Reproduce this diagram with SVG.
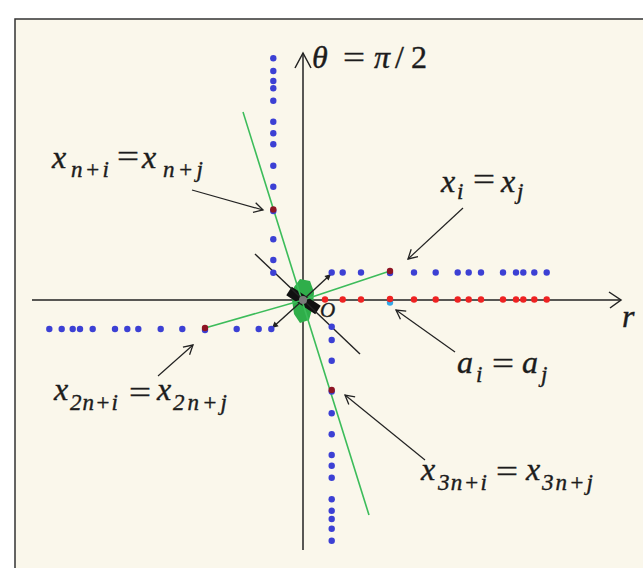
<svg xmlns="http://www.w3.org/2000/svg" width="643" height="568" viewBox="0 0 643 568">
<defs>
<style>
.ax{stroke:#222;stroke-width:1.5;fill:none}
.gl{stroke:#3cbc5a;stroke-width:1.6;fill:none}
.bk{stroke:#222;stroke-width:1.4;fill:none}
.ar{stroke:#222;stroke-width:1.2;fill:none}
.b{fill:#3c40d4}
.r{fill:#ee2222}
.dr{fill:#8e1424}
.c{fill:#33a8e8}
.lb{font-family:"Liberation Serif","DejaVu Serif",serif;font-style:italic;fill:#1c1c1c;stroke:#1c1c1c;stroke-width:0.4}
.m{font-size:32px}
.s{font-size:23px}
.eq{font-style:normal}
</style>
<marker id="open" viewBox="-10 -6 12 12" refX="0" refY="0" markerWidth="12" markerHeight="12" markerUnits="userSpaceOnUse" orient="auto">
<path d="M-9,-5 L0,0 L-9,5" fill="none" stroke="#222" stroke-width="1.3"/>
</marker>
<marker id="fill" viewBox="-8 -4 9 8" refX="0" refY="0" markerWidth="8" markerHeight="7" markerUnits="userSpaceOnUse" orient="auto">
<path d="M-7,-3.5 L0,0 L-7,3.5 Z" fill="#222"/>
</marker>
<circle id="d" r="3.2"/>
</defs>

<g id="frame">
<rect x="0" y="0" width="643" height="568" fill="#ffffff"/>
<rect x="15" y="19" width="628" height="549" fill="#faf7eb"/>
<path d="M15,568 L15,19 L643,19" stroke="#333" stroke-width="1.5" fill="none"/>
</g>

<g id="axes">
<line class="ax" x1="32" y1="300" x2="621" y2="300"/>
<path class="ax" d="M609,292 L621,300 L610,308"/>
<line class="ax" x1="303" y1="550" x2="303" y2="53"/>
<path class="ax" d="M295,68 L303,53 L311,68"/>
</g>

<g id="connectors">
<g id="origin-blob">
<path d="M300,279 L310,281 L314,292 L313,306 L309,320 L300,323 L294,314 L292,300 L294,287 Z" fill="#2fae4a"/>
<line x1="289" y1="291" x2="318" y2="310" stroke="#111" stroke-width="10"/>
</g>
<line class="gl" x1="243" y1="112" x2="369" y2="515"/>
<line class="gl" x1="303" y1="300" x2="390" y2="271"/>
<line class="gl" x1="303" y1="300" x2="205" y2="328"/>
<line class="bk" x1="255" y1="254" x2="360" y2="354"/>
<line class="bk" x1="303" y1="300" x2="331" y2="274" marker-end="url(#fill)"/>
<line class="bk" x1="303" y1="300" x2="272" y2="328" marker-end="url(#fill)"/>
<circle cx="303" cy="300" r="4" fill="#7a7a7a"/>
<line class="ar" x1="192" y1="190" x2="263" y2="210" marker-end="url(#open)"/>
<line class="ar" x1="463" y1="208" x2="408" y2="259" marker-end="url(#open)"/>
<line class="ar" x1="455" y1="352" x2="396" y2="310" marker-end="url(#open)"/>
<line class="ar" x1="158" y1="376" x2="193" y2="345" marker-end="url(#open)"/>
<line class="ar" x1="425" y1="460" x2="345" y2="395" marker-end="url(#open)"/>
</g>

<g id="dots-right-upper" class="b">
<use href="#d" x="331.7" y="272.5"/><use href="#d" x="342.7" y="272.5"/><use href="#d" x="361" y="272.5"/><use href="#d" x="390" y="273"/>
<use href="#d" x="414" y="272.5"/><use href="#d" x="435.7" y="272.5"/><use href="#d" x="457.7" y="272.5"/><use href="#d" x="468.7" y="272.5"/>
<use href="#d" x="481" y="272.5"/><use href="#d" x="503" y="272.5"/><use href="#d" x="516" y="272.5"/><use href="#d" x="523.3" y="272.5"/>
<use href="#d" x="534.3" y="272.5"/><use href="#d" x="546.7" y="272.5"/>
</g>
<g id="dots-axis" class="r">
<use href="#d" x="390" y="302.5" class="c"/>
<use href="#d" x="325" y="299.5"/><use href="#d" x="342.7" y="299.5"/><use href="#d" x="361" y="299.5"/><use href="#d" x="390" y="299"/>
<use href="#d" x="414" y="299.5"/><use href="#d" x="435.7" y="299.5"/><use href="#d" x="457.7" y="299.5"/><use href="#d" x="468.7" y="299.5"/>
<use href="#d" x="481" y="299.5"/><use href="#d" x="503" y="299.5"/><use href="#d" x="516" y="299.5"/><use href="#d" x="523.3" y="299.5"/>
<use href="#d" x="534.3" y="299.5"/><use href="#d" x="546.7" y="299.5"/>
</g>
<g id="dots-left" class="b">
<use href="#d" x="49.3" y="329"/><use href="#d" x="61.7" y="329"/><use href="#d" x="72.7" y="329"/><use href="#d" x="80" y="329"/>
<use href="#d" x="92.7" y="329"/><use href="#d" x="115" y="329"/><use href="#d" x="127.3" y="329"/><use href="#d" x="138.3" y="329"/>
<use href="#d" x="160.7" y="329"/><use href="#d" x="182.3" y="329"/><use href="#d" x="205" y="330"/><use href="#d" x="236.7" y="329"/>
<use href="#d" x="258.7" y="329"/><use href="#d" x="271.3" y="329"/>
</g>
<g id="dots-up" class="b">
<use href="#d" x="273.3" y="58.3"/><use href="#d" x="273.3" y="71"/><use href="#d" x="273.3" y="81"/><use href="#d" x="273.3" y="88.3"/>
<use href="#d" x="273.3" y="100.7"/><use href="#d" x="273.3" y="121.7"/><use href="#d" x="273.3" y="133.3"/><use href="#d" x="273.3" y="144.3"/>
<use href="#d" x="273.3" y="165.7"/><use href="#d" x="273.3" y="186.7"/><use href="#d" x="273.3" y="211"/><use href="#d" x="273.3" y="239.3"/>
<use href="#d" x="273.3" y="260"/><use href="#d" x="273.3" y="272.7"/>
</g>
<g id="dots-down" class="b">
<use href="#d" x="331.7" y="326.7"/><use href="#d" x="331.7" y="340"/><use href="#d" x="331.7" y="360.7"/><use href="#d" x="331.7" y="391.5"/>
<use href="#d" x="331.7" y="413.3"/><use href="#d" x="331.7" y="434.3"/><use href="#d" x="331.7" y="455"/><use href="#d" x="331.7" y="465.7"/>
<use href="#d" x="331.7" y="477.7"/><use href="#d" x="331.7" y="499.3"/><use href="#d" x="331.7" y="510.7"/><use href="#d" x="331.7" y="519"/>
<use href="#d" x="331.7" y="528.7"/><use href="#d" x="331.7" y="540.7"/>
</g>
<g id="dots-marked" class="dr">
<use href="#d" x="390" y="271"/>
<use href="#d" x="205" y="328"/>
<use href="#d" x="273.3" y="209.5"/>
<use href="#d" x="331.7" y="390"/>
</g>

<g id="label-theta" class="lb m">
<text x="312" y="68">θ</text>
<text x="343" y="68" class="eq" textLength="22" lengthAdjust="spacingAndGlyphs">=</text>
<text x="374" y="68">π</text>
<text x="395" y="68" class="eq">/</text>
<text x="411" y="68" class="eq">2</text>
</g>
<g id="label-r" class="lb m"><text x="622" y="327">r</text></g>
<g id="label-O" class="lb"><text x="320" y="317" font-size="21">O</text></g>

<g id="label-xni" class="lb">
<text x="52" y="168" class="m">x</text>
<text x="71" y="177" class="s" textLength="38">n+i</text>
<text x="117" y="167" class="m eq" textLength="22" lengthAdjust="spacingAndGlyphs">=</text>
<text x="142" y="168" class="m">x</text>
<text x="163" y="177" class="s" textLength="40">n+j</text>
</g>
<g id="label-xi" class="lb">
<text x="441" y="192" class="m">x</text>
<text x="457" y="199" class="s">i</text>
<text x="473" y="190" class="m eq" textLength="22" lengthAdjust="spacingAndGlyphs">=</text>
<text x="501" y="192" class="m">x</text>
<text x="517" y="199" class="s">j</text>
</g>
<g id="label-ai" class="lb">
<text x="457" y="373" class="m">a</text>
<text x="476" y="382" class="s">i</text>
<text x="492" y="374" class="m eq" textLength="22" lengthAdjust="spacingAndGlyphs">=</text>
<text x="522" y="373" class="m">a</text>
<text x="541" y="382" class="s">j</text>
</g>
<g id="label-x2n" class="lb">
<text x="54" y="400" class="m">x</text>
<text x="70" y="410" class="s" textLength="48">2n+i</text>
<text x="129" y="403" class="m eq" textLength="22" lengthAdjust="spacingAndGlyphs">=</text>
<text x="157" y="400" class="m">x</text>
<text x="173" y="410" class="s" textLength="54">2n+j</text>
</g>
<g id="label-x3n" class="lb">
<text x="421" y="480" class="m">x</text>
<text x="438" y="490" class="s" textLength="49">3n+i</text>
<text x="496" y="482" class="m eq" textLength="22" lengthAdjust="spacingAndGlyphs">=</text>
<text x="526" y="480" class="m">x</text>
<text x="542" y="490" class="s" textLength="51">3n+j</text>
</g>
</svg>
